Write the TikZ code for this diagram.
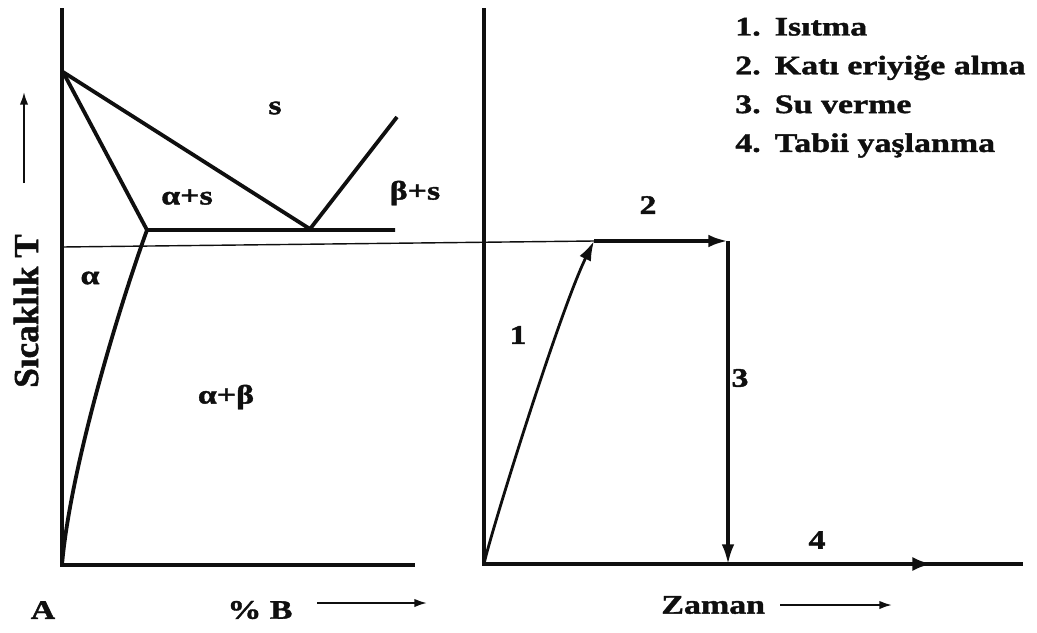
\documentclass[tikz,border=0pt]{standalone}
\usepackage{fontspec}
\setmainfont{Liberation Serif}[FakeStretch=1.27,BoldFeatures={FakeBold=1.4}]
\newfontfamily\uprightlbl{Liberation Serif}[BoldFeatures={FakeBold=1.4}]
\usetikzlibrary{arrows.meta}
\definecolor{inkblack}{RGB}{15,15,15}

\begin{document}
\begin{tikzpicture}[x=0.025cm,y=-0.025cm,inkblack,
    font=\bfseries\fontsize{19}{23}\selectfont,
    axis/.style={line width=2.9pt},
    phaseline/.style={line width=2.7pt,line join=round},
    route/.style={line width=2.4pt,-{Latex[length=14pt,width=9pt]}},
    lblarrow/.style={line width=1.4pt,-{Latex[length=9pt,width=6pt]}}]
  \useasboundingbox (0,0) rectangle (1037,632);
  % Phase diagram points
  \coordinate (A0)   at (62,565);
  \coordinate (Atop) at (62,8);
  \coordinate (Bend) at (415,565);
  \coordinate (liq)  at (63,72);
  \coordinate (eut)  at (310,229);
  \coordinate (sol)  at (147,230);
  \coordinate (eutR) at (395,230);
  \coordinate (liqB) at (397,117);
  % Axes (left)
  \draw[axis] (Atop) -- (A0) -- (Bend);
  % Phase lines
  \draw[phaseline] (liq) -- (eut) -- (liqB);
  \draw[phaseline] (liq) -- (sol) -- (eutR);
  \draw[phaseline] (sol) .. controls (118,310) and (70,470) .. (A0);
  % Region labels
  \node (regS)   at (275,108) {s};
  \node (regAS)  at (187,197) {α+s};
  \node (regBS)  at (415,193) {β+s};
  \node (regA)   at (90,278)  {α};
  \node (regAB)  at (226,397) {α+β};
  % Axis labels (left)
  \node[rotate=90,font=\uprightlbl\bfseries\fontsize{25}{29}\selectfont] (lblT) at (26,311) {Sıcaklık T};
  \coordinate (tS) at (24,183);
  \coordinate (tE) at (24,92);
  \draw[lblarrow] (tS) -- (tE);
  \node (lblA) at (43,610) {A};
  \node (lblB) at (260,610) {\% B};
  \coordinate (bS) at (317,603);
  \coordinate (bE) at (427,603);
  \draw[lblarrow] (bS) -- (bE);
  % Heat treatment route (right)
  \coordinate (R0)   at (484,564);
  \coordinate (Rtop) at (484,8);
  \coordinate (Rend) at (1023,564);
  \coordinate (c1)   at (594,241);
  \coordinate (c2)   at (728,241);
  \coordinate (c3)   at (728,564);
  \coordinate (c4)   at (932,564);
  \draw[axis] (Rtop) -- (R0) -- (Rend);
  \draw[axis,-{Latex[length=14pt,width=10pt]}] (c3) -- (c4);
  % Solution temperature line
  \draw[line width=1pt] (62,247) -- (c1);
  \draw[route,line width=2pt] (R0) .. controls (490,535) and (560,310) .. (c1);
  \draw[route,line width=2.8pt] (c1) -- (c2);
  \draw[route,line width=2.2pt] (c2) -- (c3);
  % Step numbers
  \node (st1) at (518,335) {1};
  \node (st2) at (648,205) {2};
  \node (st3) at (740,378) {3};
  \node (st4) at (817,540) {4};
  % Axis label (right)
  \node[anchor=east] (lblZ) at (770,605) {Zaman};
  \coordinate (zS) at (780,605);
  \coordinate (zE) at (892,605);
  \draw[lblarrow] (zS) -- (zE);
  % Legend
  \node[anchor=north west,inner sep=0pt] (legend) at (735,8) {%
    \renewcommand{\arraystretch}{1.2}%
    \begin{tabular}{@{}l@{\hspace{10pt}}l@{}}
      1. & Isıtma\\
      2. & Katı eriyiğe alma\\
      3. & Su verme\\
      4. & Tabii yaşlanma
    \end{tabular}};
\end{tikzpicture}
\end{document}
